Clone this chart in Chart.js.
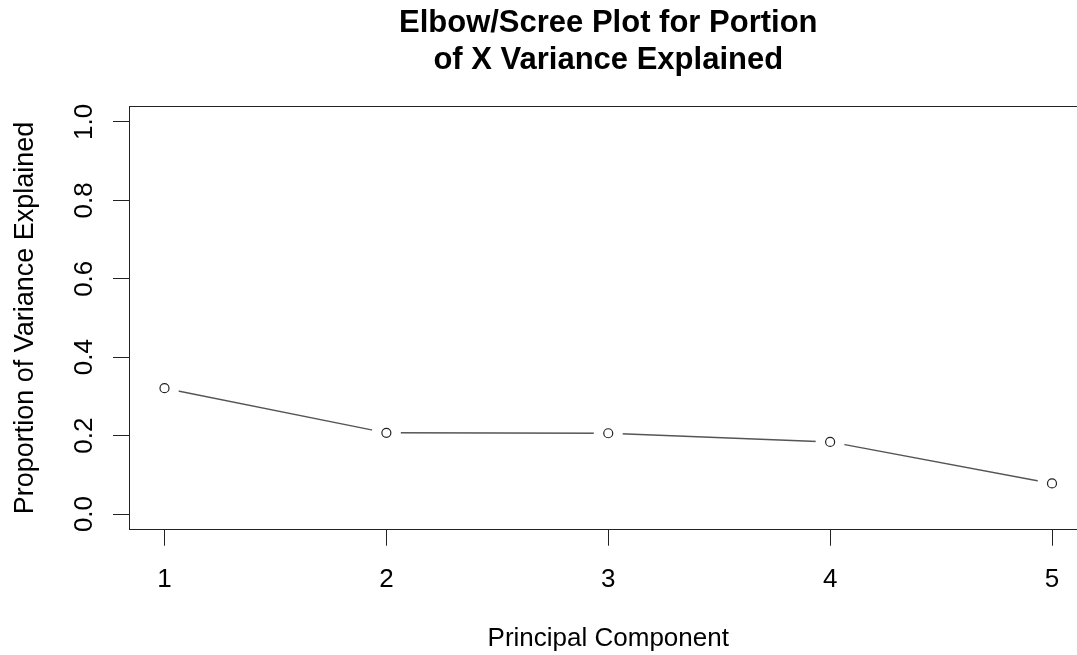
<!DOCTYPE html>
<html>
<head>
<meta charset="utf-8">
<script src="https://cdn.jsdelivr.net/npm/chart.js@4/dist/chart.umd.min.js"></script>
<style>
  html, body { margin: 0; padding: 0; background: #fff; overflow: hidden; }
  canvas { display: block; }
</style>
</head>
<body>
<canvas id="chart" width="1102" height="655"></canvas>
<script>
// principal components and proportion of variance explained
var components = [1, 2, 3, 4, 5];
var variance_explained = [0.321, 0.207, 0.206, 0.184, 0.078];
var x_ticks = [1, 2, 3, 4, 5];
var y_ticks = [0.0, 0.2, 0.4, 0.6, 0.8, 1.0];

var font_family = "'Liberation Sans', Arial, sans-serif";

function points() {
  return components.map(function (c, i) {
    return { x: c, y: variance_explained[i] };
  });
}

// R-like box around the plot region
const boxPlugin = {
  id: "box",
  afterDraw(chart) {
    const a = chart.chartArea;
    const c = chart.ctx;
    c.save();
    c.strokeStyle = "#222";
    c.lineWidth = 1;
    c.strokeRect(Math.round(a.left) + 0.5, Math.round(a.top) + 0.5, a.right - a.left, Math.round(a.bottom - a.top));
    c.restore();
  },
};

const ctx = document.getElementById("chart").getContext("2d");

const config = {
  type: "line",
  data: {
    datasets: [
      {
        // the connecting line
        data: points(),
        borderColor: "#555",
        borderWidth: 1.5,
        pointRadius: 0,
        tension: 0,
        order: 3,
      },
      {
        // white gaps round the points (type = "b")
        data: points(),
        showLine: false,
        pointRadius: 14.5,
        pointBackgroundColor: "#fff",
        pointBorderWidth: 0,
        order: 2,
      },
      {
        data: points(),
        showLine: false,
        pointRadius: 4.5,
        pointBackgroundColor: "#fff",
        pointBorderColor: "#222",
        pointBorderWidth: 1.2,
        order: 1,
      },
    ],
  },
  options: {
    responsive: false,
    animation: false,
    layout: { padding: { left: 0, right: 12, top: 0, bottom: 0 } },
    plugins: {
      legend: { display: false },
      tooltip: { enabled: false },
      title: {
        display: true,
        fullSize: false,
        text: ["Elbow/Scree Plot for Portion", "of X Variance Explained"],
        color: "#000",
        font: { family: font_family, size: 31, weight: "bold", lineHeight: 1.2 },
        padding: { top: 5.1, bottom: 26.8 },
      },
    },
    scales: {
      x: {
        type: "linear",
        min: 0.84,
        max: 5.16,
        afterBuildTicks: function (scale) {
          scale.ticks = x_ticks.map(function (v) { return { value: v }; });
        },
        afterFit: function (scale) {
          scale.height = 125.3;
        },
        ticks: {
          color: "#000",
          padding: 18.7,
          maxRotation: 0,
          font: { family: font_family, size: 26 },
          callback: function (v) { return String(v); },
        },
        grid: {
          drawOnChartArea: false,
          drawTicks: true,
          tickLength: 16,
          color: "#222",
        },
        border: { display: true, color: "#222", width: 1 },
        title: {
          display: true,
          text: "Principal Component",
          color: "#000",
          font: { family: font_family, size: 26 },
          padding: { top: 0, bottom: 0.4 },
        },
      },
      y: {
        type: "linear",
        min: -0.04,
        max: 1.04,
        afterBuildTicks: function (scale) {
          scale.ticks = y_ticks.map(function (v) { return { value: v }; });
        },
        afterFit: function (scale) {
          scale.width = 129;
        },
        ticks: {
          color: "#000",
          padding: 10,
          minRotation: 90,
          maxRotation: 90,
          crossAlign: "center",
          font: { family: font_family, size: 26 },
          callback: function (v) { return v.toFixed(1); },
        },
        grid: {
          drawOnChartArea: false,
          drawTicks: true,
          tickLength: 16,
          color: "#222",
        },
        border: { display: true, color: "#222", width: 1 },
        title: {
          display: true,
          text: "Proportion of Variance Explained",
          color: "#000",
          font: { family: font_family, size: 27 },
          padding: { top: 9, bottom: 0 },
        },
      },
    },
  },
  plugins: [boxPlugin],
};

var chart = new Chart(ctx, config);
</script>
</body>
</html>
